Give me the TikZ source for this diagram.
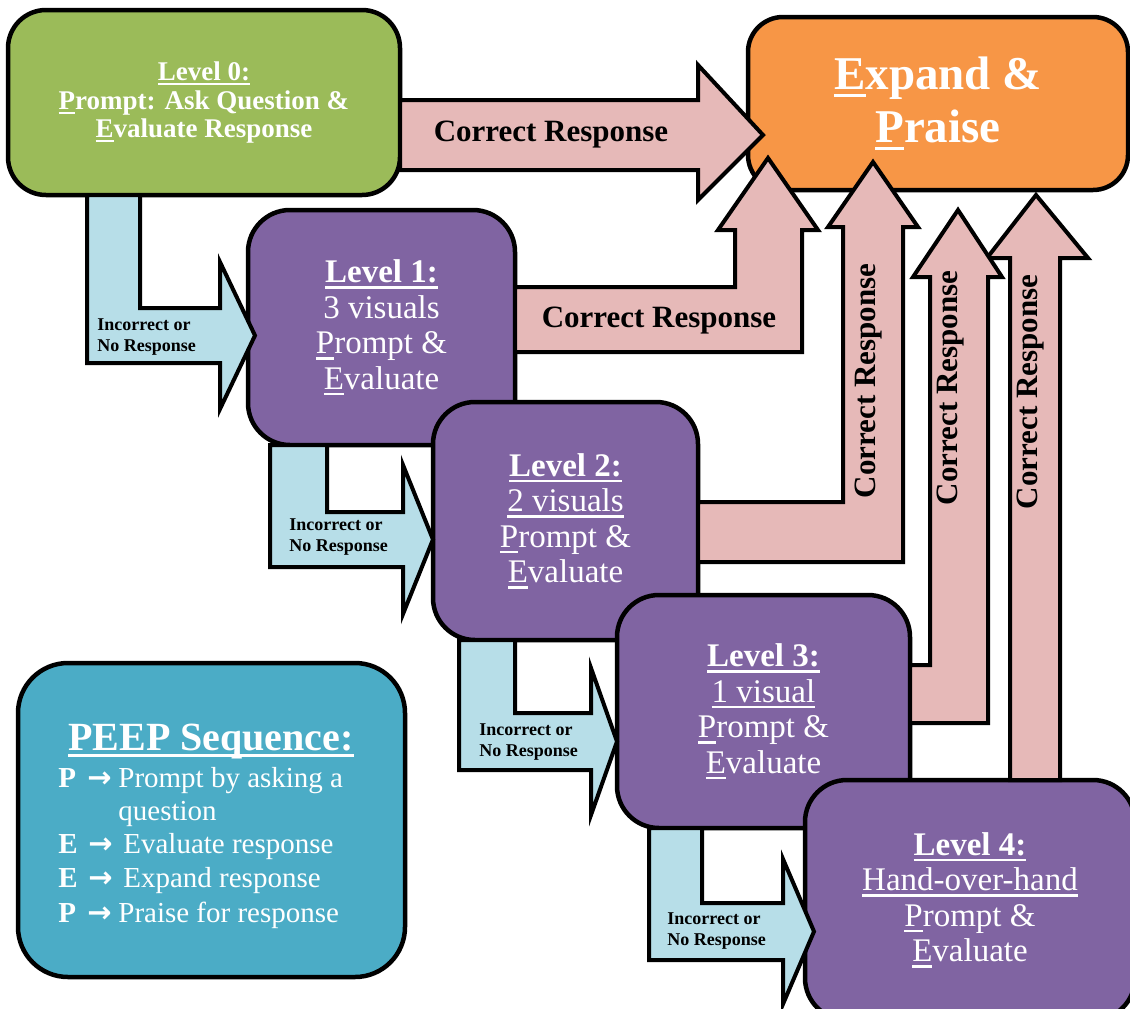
\documentclass[tikz,border=0pt]{standalone}
\usepackage{fontspec}
\setmainfont{Liberation Serif}
\newfontfamily\symfont{DejaVu Sans}

% underline drawn as a rule just below the baseline
\newcommand{\undl}[1]{\setbox0\hbox{#1}\rlap{\rule[-0.17em]{\wd0}{0.07em}}\box0}

\definecolor{lvlgreen}{HTML}{9BBB59}
\definecolor{praiseorange}{HTML}{F79646}
\definecolor{lvlpurple}{HTML}{8064A2}
\definecolor{peepblue}{HTML}{4BACC6}
\definecolor{okpink}{HTML}{E6B9B8}
\definecolor{retryblue}{HTML}{B7DEE8}

\tikzset{
  box/.style={draw=black, line width=2.25pt, rounded corners=21pt, inner sep=0pt,
              text=white, align=center},
  lvltext/.style={font=\fontsize{16.5}{17.75}\selectfont},
  pinkarrow/.style={draw=black, fill=okpink, line width=2pt, line join=miter},
  bluearrow/.style={draw=black, fill=retryblue, line width=2pt, line join=miter},
  oklabel/.style={font=\fontsize{15.5}{17}\selectfont\bfseries, text=black, inner sep=0pt},
  retrylabel/.style={font=\fontsize{9}{10.5}\selectfont\bfseries, text=black,
                     align=left, anchor=west, inner sep=0pt},
  legendline/.style={font=\fontsize{14.5}{16.5}\selectfont, text=white,
                     anchor=base west, inner sep=0pt},
}

\begin{document}
\begin{tikzpicture}[x=0.5pt,y=-0.5pt]
\useasboundingbox (0,0) rectangle (1130,1008);
\clip (0,0) rectangle (1130,1008);

% ---------- boxes ----------
\node[box, fill=praiseorange, rounded corners=17.5pt, minimum width=190pt, minimum height=86.5pt,
      font=\fontsize{23.5}{26.5}\selectfont\bfseries] (praise) at (938,103.5)
  {\undl{E}xpand \&\\\undl{P}raise};

\node[box, fill=lvlgreen, rounded corners=19pt, minimum width=196pt, minimum height=92.5pt,
      font=\fontsize{13.5}{14.25}\selectfont\bfseries] (lvl0) at (204,102.5)
  {\undl{Level 0:}\\\undl{P}rompt: Ask Question \&\\\undl{E}valuate Response};

\node[box, fill=lvlpurple, lvltext, minimum width=133.5pt, minimum height=117.5pt] (lvl1) at (381.5,327.5)
  {\undl{\textbf{Level 1:}}\\3 visuals\\\undl{P}rompt \&\\\undl{E}valuate};

\node[box, fill=lvlpurple, lvltext, minimum width=132.5pt, minimum height=119pt] (lvl2) at (565.5,521)
  {\undl{\textbf{Level 2:}}\\\undl{2 visuals}\\\undl{P}rompt \&\\\undl{E}valuate};

\node[box, fill=lvlpurple, lvltext, minimum width=146.5pt, minimum height=116.5pt] (lvl3) at (763.5,711.5)
  {\undl{\textbf{Level 3:}}\\\undl{1 visual}\\\undl{P}rompt \&\\\undl{E}valuate};

\node[box, fill=lvlpurple, lvltext, minimum width=165pt, minimum height=120pt] (lvl4) at (970,900)
  {\undl{\textbf{Level 4:}}\\\undl{Hand-over-hand}\\\undl{P}rompt \&\\\undl{E}valuate};

\node[box, fill=peepblue, rounded corners=25pt, minimum width=193.5pt, minimum height=157pt] (peep) at (211.5,820) {};

% ---------- legend text ----------
\node[font=\fontsize{20}{22}\selectfont\bfseries, text=white, anchor=base, inner sep=0pt] (peeptitle)
  at (211,750) {\undl{PEEP Sequence:}};
\node[legendline] (peepa) at (58,787)
  {\makebox[14.5pt][l]{\textbf{P}}\makebox[15.5pt][l]{\symfont\bfseries →}Prompt by asking a};
\node[legendline] (peepb) at (118,820) {question};
\node[legendline] (peepc) at (58,853)
  {\makebox[15pt][l]{\textbf{E}}\makebox[17.5pt][l]{\symfont\bfseries →}Evaluate response};
\node[legendline] (peepd) at (58,887)
  {\makebox[15pt][l]{\textbf{E}}\makebox[17.5pt][l]{\symfont\bfseries →}Expand response};
\node[legendline] (peepe) at (58,922)
  {\makebox[14.5pt][l]{\textbf{P}}\makebox[15.5pt][l]{\symfont\bfseries →}Praise for response};

% ---------- "Correct Response" block arrows into Expand & Praise ----------
\draw[pinkarrow] (400,100) -- (698,100) -- (698,65) -- (763,135) -- (698,200) -- (698,170) -- (400,170) -- cycle;
\draw[pinkarrow] (515,287) -- (735,287) -- (735,230) -- (718,230) -- (768,158) -- (818,230) -- (802,230)
  -- (802,352) -- (515,352) -- cycle;
\draw[pinkarrow] (698,502) -- (843,502) -- (843,227) -- (828,227) -- (873,162) -- (918,227) -- (903,227)
  -- (903,562) -- (698,562) -- cycle;
\draw[pinkarrow] (1010,780) -- (1010,258) -- (987,258) -- (1036,195) -- (1088,258) -- (1060,258) -- (1060,780) -- cycle;
\draw[pinkarrow] (910,665) -- (930,665) -- (930,277) -- (913,277) -- (958,210) -- (1002,277) -- (988,277)
  -- (988,723) -- (910,723) -- cycle;

\node[oklabel] (oka) at (551,135) {Correct Response};
\node[oklabel] (okb) at (659,321) {Correct Response};
\node[oklabel, rotate=90] (okc) at (869,381) {Correct Response};
\node[oklabel, rotate=90] (okd) at (951,388) {Correct Response};
\node[oklabel, rotate=90] (oke) at (1031,392) {Correct Response};

% ---------- "Incorrect or No Response" block arrows down the levels ----------
\draw[bluearrow] (87,195) -- (140,195) -- (140,308) -- (220,308) -- (220,262) -- (255,335.5) -- (220,409)
  -- (220,363) -- (87,363) -- cycle;
\draw[bluearrow] (270,445) -- (327,445) -- (327,512) -- (403,512) -- (403,465) -- (433,539.5) -- (403,614)
  -- (403,567) -- (270,567) -- cycle;
\draw[bluearrow] (459,640) -- (515,640) -- (515,713) -- (591,713) -- (591,668) -- (617,741.5) -- (591,815)
  -- (591,770) -- (459,770) -- cycle;
\draw[bluearrow] (649,828) -- (702,828) -- (702,903) -- (783,903) -- (783,859) -- (814,931.5) -- (783,1004)
  -- (783,960) -- (649,960) -- cycle;

\node[retrylabel] (inca) at (97,337.5) {Incorrect or\\No Response};
\node[retrylabel] (incb) at (289,537.5) {Incorrect or\\No Response};
\node[retrylabel] (incc) at (479,742.5) {Incorrect or\\No Response};
\node[retrylabel] (incd) at (667,931) {Incorrect or\\No Response};
\end{tikzpicture}
\end{document}
